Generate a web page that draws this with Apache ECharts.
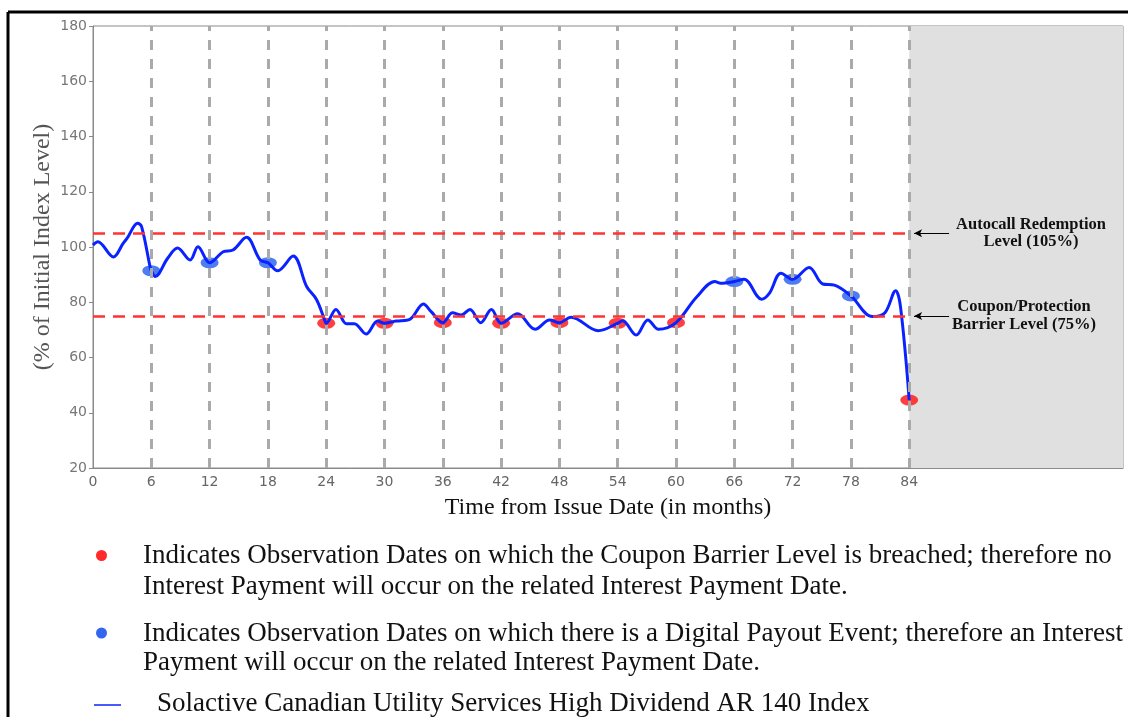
<!DOCTYPE html>
<html>
<head>
<meta charset="utf-8">
<script src="https://cdn.jsdelivr.net/npm/echarts/dist/echarts.min.js"></script>
<style>
  html, body { margin: 0; padding: 0; background: #fff; }
  #chart { width: 1128px; height: 717px; }
</style>
</head>
<body>
<div id="chart"></div>
<script>
// index path (months from issue, % of initial level)
var months = [0, 0.5, 2.1, 3.1, 3.5, 4.6, 5.0, 5.9, 6.0, 6.4, 7.7, 8.7, 10.0, 10.8, 12.0, 13.4, 14.4, 15.8, 17.2, 18.0,
  19.0, 20.6, 22.0, 23.0, 23.9, 24.0, 25.0, 26.1, 26.9, 28.1, 29.3, 30.0, 31.2, 32.6, 34.0, 34.8, 36.0, 37.0, 37.9, 38.8,
  39.9, 41.0, 42.0, 43.7, 45.5, 47.0, 48.0, 49.2, 52.0, 54.0, 54.5, 55.9, 57.1, 58.2, 60.0, 62.1, 64.0, 64.6, 66.0, 67.0,
  68.8, 69.6, 70.8, 72.0, 73.7, 75.1, 76.3, 78.0, 80.2, 81.5, 82.6, 83.1, 84.0];
var levels = [100.7, 101.9, 96.4, 101.3, 103.1, 108.6, 107.4, 92.4, 91.4, 89.3, 96.0, 99.6, 95.3, 100.1, 94.3, 98.3, 98.9, 103.5, 95.3, 94.3,
  91.4, 96.7, 85.6, 81.0, 73.0, 72.4, 77.4, 72.2, 72.2, 68.5, 73.2, 72.4, 73.2, 73.8, 79.4, 76.6, 72.6, 76.2, 75.4, 77.4,
  72.6, 77.4, 72.4, 75.8, 70.2, 73.6, 72.6, 74.6, 69.7, 72.4, 73.3, 68.1, 73.6, 70.2, 72.6, 81.8, 87.5, 86.9, 87.5, 88.3,
  81.1, 83.2, 90.5, 88.3, 92.6, 86.6, 86.2, 82.3, 74.8, 76.2, 84.2, 78.4, 44.6];

// observation dates
var obsMonths = [6, 12, 18, 24, 30, 36, 42, 48, 54, 60, 66, 72, 78, 84];
var breachMonths = [24, 30, 36, 42, 48, 54, 60, 84];
var breachLevels = [72.4, 72.4, 72.6, 72.4, 72.6, 72.4, 72.6, 44.6];
var payoutMonths = [6, 12, 18, 66, 72, 78];
var payoutLevels = [91.4, 94.3, 94.3, 87.5, 88.3, 82.3];

var autocallLevel = 105;
var barrierLevel = 75;
var lastObs = 84;
var xMax = 106;
var yTicks = [20, 40, 60, 80, 100, 120, 140, 160, 180];

var serif = '"Liberation Serif", "Times New Roman", serif';

var myChart = echarts.init(document.getElementById('chart'));

var pathData = months.map(function (m, i) { return [m, levels[i]]; });
var breachData = breachMonths.map(function (m, i) { return [m, breachLevels[i]]; });
var payoutData = payoutMonths.map(function (m, i) { return [m, payoutLevels[i]]; });

function txt(x, y, s, font, align) {
  return { type: 'text', x: x, y: y, z: 100,
    style: { text: s, font: font, fill: '#111', textAlign: align || 'left', textVerticalAlign: 'middle' } };
}

var option = {
  animation: false,
  grid: {
    left: 93, right: 5, top: 26, bottom: 249,
    show: true, borderColor: '#8a8a8a', borderWidth: 1
  },
  xAxis: {
    type: 'value', min: 0, max: xMax, interval: 6,
    name: 'Time from Issue Date (in months)',
    nameLocation: 'middle', nameGap: 28,
    nameTextStyle: { fontFamily: serif, fontSize: 24, color: '#111' },
    axisLine: { lineStyle: { color: '#8a8a8a' } },
    axisTick: { show: false },
    splitLine: { show: false },
    axisLabel: {
      fontFamily: 'DejaVu Sans', fontSize: 14, color: '#666', margin: 7,
      showMaxLabel: false,
      formatter: function (v) { return v <= lastObs ? String(v) : ''; }
    }
  },
  yAxis: {
    type: 'value', min: yTicks[0], max: yTicks[yTicks.length - 1], interval: 20,
    name: '(% of Initial Index Level)',
    nameLocation: 'middle', nameGap: 38, nameMoveOverlap: false,
    nameTextStyle: { fontFamily: serif, fontSize: 24, color: '#555' },
    axisLine: { show: true, lineStyle: { color: '#8a8a8a' } },
    axisTick: { show: true, length: 4, lineStyle: { color: '#8a8a8a' } },
    splitLine: { show: false },
    axisLabel: { fontFamily: 'DejaVu Sans', fontSize: 14, color: '#777', margin: 6 }
  },
  series: [
    {
      // guide lines and shaded area after final observation
      type: 'line', data: [], silent: true,
      markArea: {
        silent: true,
        itemStyle: { color: '#e0e0e0' },
        data: [[{ xAxis: lastObs }, { xAxis: xMax }]]
      },
      markLine: {
        silent: true, symbol: 'none',
        label: { show: false },
        lineStyle: { color: '#aaaaaa', width: 3, type: [10, 9] },
        data: obsMonths.map(function (m) { return { xAxis: m }; })
          .concat([
            [{ coord: [0, autocallLevel], lineStyle: { color: '#ff3333', width: 2.5, type: [12, 8] } },
             { coord: [lastObs, autocallLevel] }],
            [{ coord: [0, barrierLevel], lineStyle: { color: '#ff3333', width: 2.5, type: [12, 8] } },
             { coord: [lastObs, barrierLevel] }]
          ])
      }
    },
    {
      type: 'line', data: [], silent: true, z: 5,
      markLine: {
        silent: true,
        symbol: ['arrow', 'none'], symbolSize: [6, 8],
        label: { show: false },
        lineStyle: { color: '#000', width: 1, type: 'solid' },
        data: [
          [{ coord: [84.5, autocallLevel] }, { coord: [88.1, autocallLevel] }],
          [{ coord: [84.5, barrierLevel] }, { coord: [88.1, barrierLevel] }]
        ]
      }
    },
    {
      name: 'breach', type: 'scatter', data: breachData, z: 3,
      symbol: 'circle', symbolSize: [18, 11],
      itemStyle: { color: '#ff2a2a', opacity: 0.9 }
    },
    {
      name: 'payout', type: 'scatter', data: payoutData, z: 3,
      symbol: 'circle', symbolSize: [18, 11],
      itemStyle: { color: '#3a6ff0', opacity: 0.9 }
    },
    {
      name: 'index', type: 'line', data: pathData, z: 4,
      smooth: 0.35, showSymbol: false,
      lineStyle: { color: '#0a22ff', width: 3 }
    }
  ],
  graphic: [
    // outer frame
    { type: 'line', z: 100, shape: { x1: 8, y1: 12, x2: 1128, y2: 12 }, style: { stroke: '#000', lineWidth: 3 } },
    { type: 'line', z: 100, shape: { x1: 8, y1: 12, x2: 8, y2: 717 }, style: { stroke: '#000', lineWidth: 3 } },
    // annotations
    txt(1031, 225, 'Autocall Redemption', 'bold 16.5px ' + serif, 'center'),
    txt(1031, 242, 'Level (105%)', 'bold 16.5px ' + serif, 'center'),
    txt(1024, 307, 'Coupon/Protection', 'bold 16.5px ' + serif, 'center'),
    txt(1024, 325, 'Barrier Level (75%)', 'bold 16.5px ' + serif, 'center'),
    // legend
    { type: 'circle', z: 100, shape: { cx: 101.5, cy: 555.5, r: 5.5 }, style: { fill: '#ff2a2a' } },
    { type: 'circle', z: 100, shape: { cx: 101.5, cy: 633, r: 5.5 }, style: { fill: '#3366ee' } },
    { type: 'line', z: 100, shape: { x1: 94, y1: 705, x2: 121, y2: 705 }, style: { stroke: '#0a22ff', lineWidth: 1.5 } },
    txt(143, 556, 'Indicates Observation Dates on which the Coupon Barrier Level is breached; therefore no', '27px ' + serif),
    txt(143, 587, 'Interest Payment will occur on the related Interest Payment Date.', '27px ' + serif),
    txt(143, 634, 'Indicates Observation Dates on which there is a Digital Payout Event; therefore an Interest', '27px ' + serif),
    txt(143, 663, 'Payment will occur on the related Interest Payment Date.', '27px ' + serif),
    txt(157, 704, 'Solactive Canadian Utility Services High Dividend AR 140 Index', '27px ' + serif)
  ]
};

myChart.setOption(option);
</script>
</body>
</html>
